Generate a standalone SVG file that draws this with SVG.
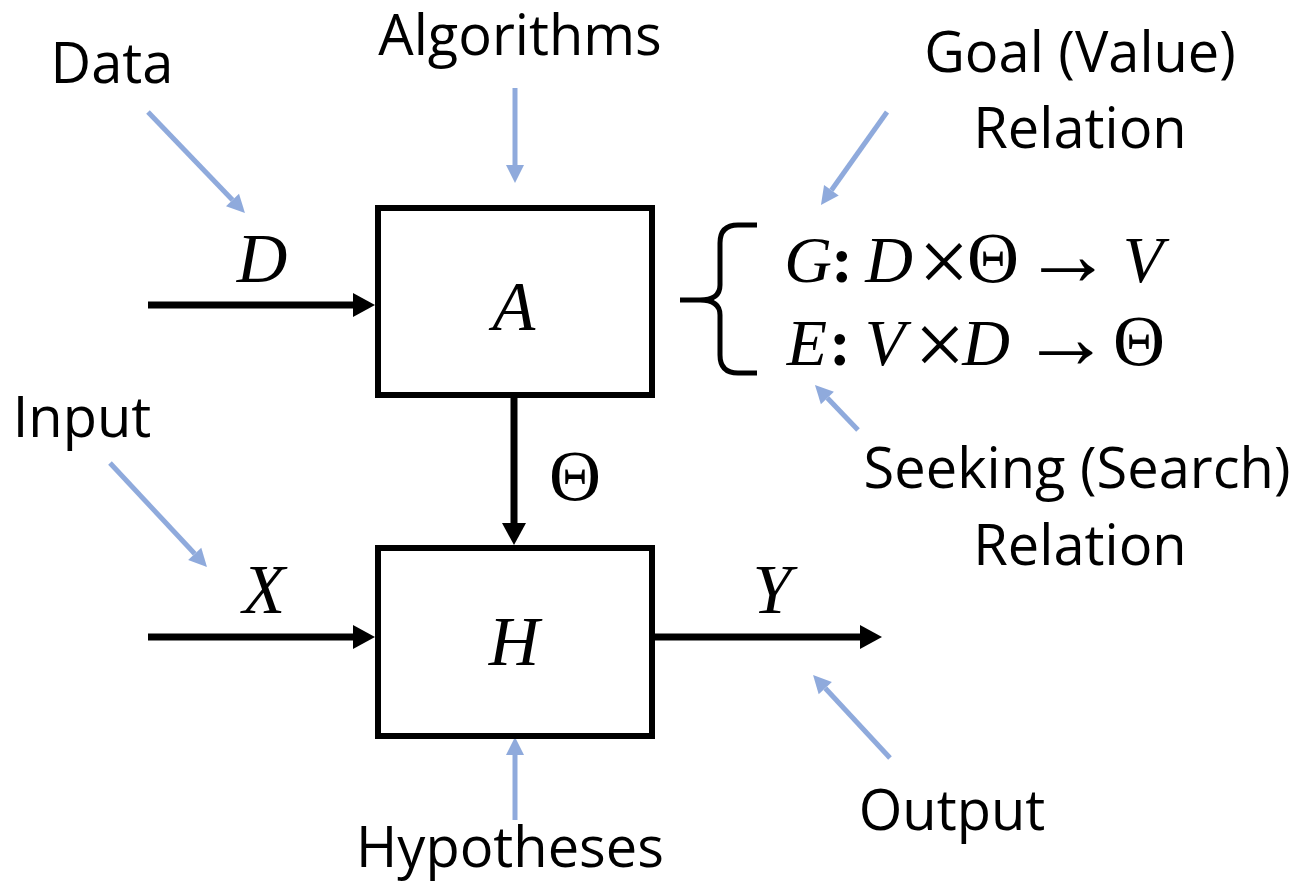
<svg xmlns="http://www.w3.org/2000/svg" width="1296" height="883" viewBox="0 0 1296 883">
<defs>
<style>
.lbl{font-family:"Open Sans","Liberation Sans",sans-serif;font-size:56px;fill:#000;text-anchor:middle}
.m{font-family:"Liberation Serif","DejaVu Serif",serif;font-style:italic;font-size:70px;fill:#000;text-anchor:middle}
.f{font-family:"Liberation Serif","DejaVu Serif",serif;font-style:italic;font-size:66px;fill:#000;text-anchor:middle}
.x{font-family:"Liberation Serif","DejaVu Serif",serif;font-size:90px;fill:#000;text-anchor:middle}
.ar{font-family:"Liberation Serif","DejaVu Serif",serif;font-size:90px;fill:#000;text-anchor:middle}
.th{font-style:normal;font-size:72px}
.c{font-style:normal;font-weight:bold}
.box{fill:#fff;stroke:#000;stroke-width:6}
.blk{stroke:#000;stroke-width:7;fill:none}
.blu{stroke:#8FAADC;stroke-width:5;fill:none}
</style>
<marker id="ab" markerUnits="userSpaceOnUse" markerWidth="22" markerHeight="24" refX="0" refY="12" orient="auto" overflow="visible">
<path d="M0,0 L22,12 L0,24 z" fill="#000"/>
</marker>
<marker id="au" markerUnits="userSpaceOnUse" markerWidth="18" markerHeight="18" refX="0" refY="9" orient="auto" overflow="visible">
<path d="M0,0 L18,9 L0,18 z" fill="#8FAADC"/>
</marker>
</defs>
<rect width="1296" height="883" fill="#fff"/>

<g id="connectors">
<line class="blk" x1="148" y1="305" x2="353" y2="305" marker-end="url(#ab)"/>
<line class="blk" x1="148" y1="637" x2="353" y2="637" marker-end="url(#ab)"/>
<line class="blk" x1="655" y1="637" x2="860" y2="637" marker-end="url(#ab)"/>
<line class="blk" x1="514" y1="398" x2="514" y2="523" marker-end="url(#ab)"/>
<line class="blu" x1="148" y1="112" x2="232.5" y2="200" marker-end="url(#au)"/>
<line class="blu" x1="515" y1="88" x2="515" y2="165" marker-end="url(#au)"/>
<line class="blu" x1="887" y1="112" x2="831.4" y2="190.3" marker-end="url(#au)"/>
<line class="blu" x1="858" y1="430" x2="827.4" y2="398" marker-end="url(#au)"/>
<line class="blu" x1="110" y1="463" x2="194.7" y2="553.8" marker-end="url(#au)"/>
<line class="blu" x1="890" y1="758" x2="825.3" y2="688.2" marker-end="url(#au)"/>
<line class="blu" x1="515" y1="820" x2="515" y2="755" marker-end="url(#au)"/>
</g>

<g id="nodeA">
<rect class="box" x="378" y="208" width="274" height="187"/>
<text class="m" x="514" y="330">A</text>
</g>
<g id="nodeH">
<rect class="box" x="378" y="548" width="274" height="188"/>
<text class="m" x="514" y="665">H</text>
</g>

<g id="signals">
<text class="m" x="262" y="282">D</text>
<text class="m" x="264" y="613">X</text>
<text class="m" x="772" y="613">Y</text>
<text class="m th" x="575" y="500">Θ</text>
</g>

<g id="relations">
<path d="M757,225 L738,225 Q720,225 720,243 L720,285 Q720,300 700,300 L680,300 M700,300 Q720,300 720,315 L720,355 Q720,373 738,373 L757,373" stroke="#000" stroke-width="5" fill="none"/>
<text class="f" y="282"><tspan x="808">G</tspan><tspan class="c" x="842">:</tspan><tspan x="889">D</tspan><tspan class="th" x="993">Θ</tspan><tspan x="1143">V</tspan></text>
<text class="x" x="944" y="292">×</text>
<text class="ar" x="1068" y="285">→</text>
<text class="f" y="365"><tspan x="807">E</tspan><tspan class="c" x="840">:</tspan><tspan x="885">V</tspan><tspan x="986">D</tspan><tspan class="th" x="1139">Θ</tspan></text>
<text class="x" x="940" y="375">×</text>
<text class="ar" x="1066" y="368">→</text>
</g>

<g id="labels">
<text class="lbl" x="112" y="83">Data</text>
<text class="lbl" x="520" y="55">Algorithms</text>
<text class="lbl" x="1080" y="72">Goal (Value)</text>
<text class="lbl" x="1080" y="148">Relation</text>
<text class="lbl" x="82" y="437">Input</text>
<text class="lbl" x="1077" y="488">Seeking (Search)</text>
<text class="lbl" x="1080" y="565">Relation</text>
<text class="lbl" x="952" y="830">Output</text>
<text class="lbl" x="510" y="867">Hypotheses</text>
</g>
</svg>
